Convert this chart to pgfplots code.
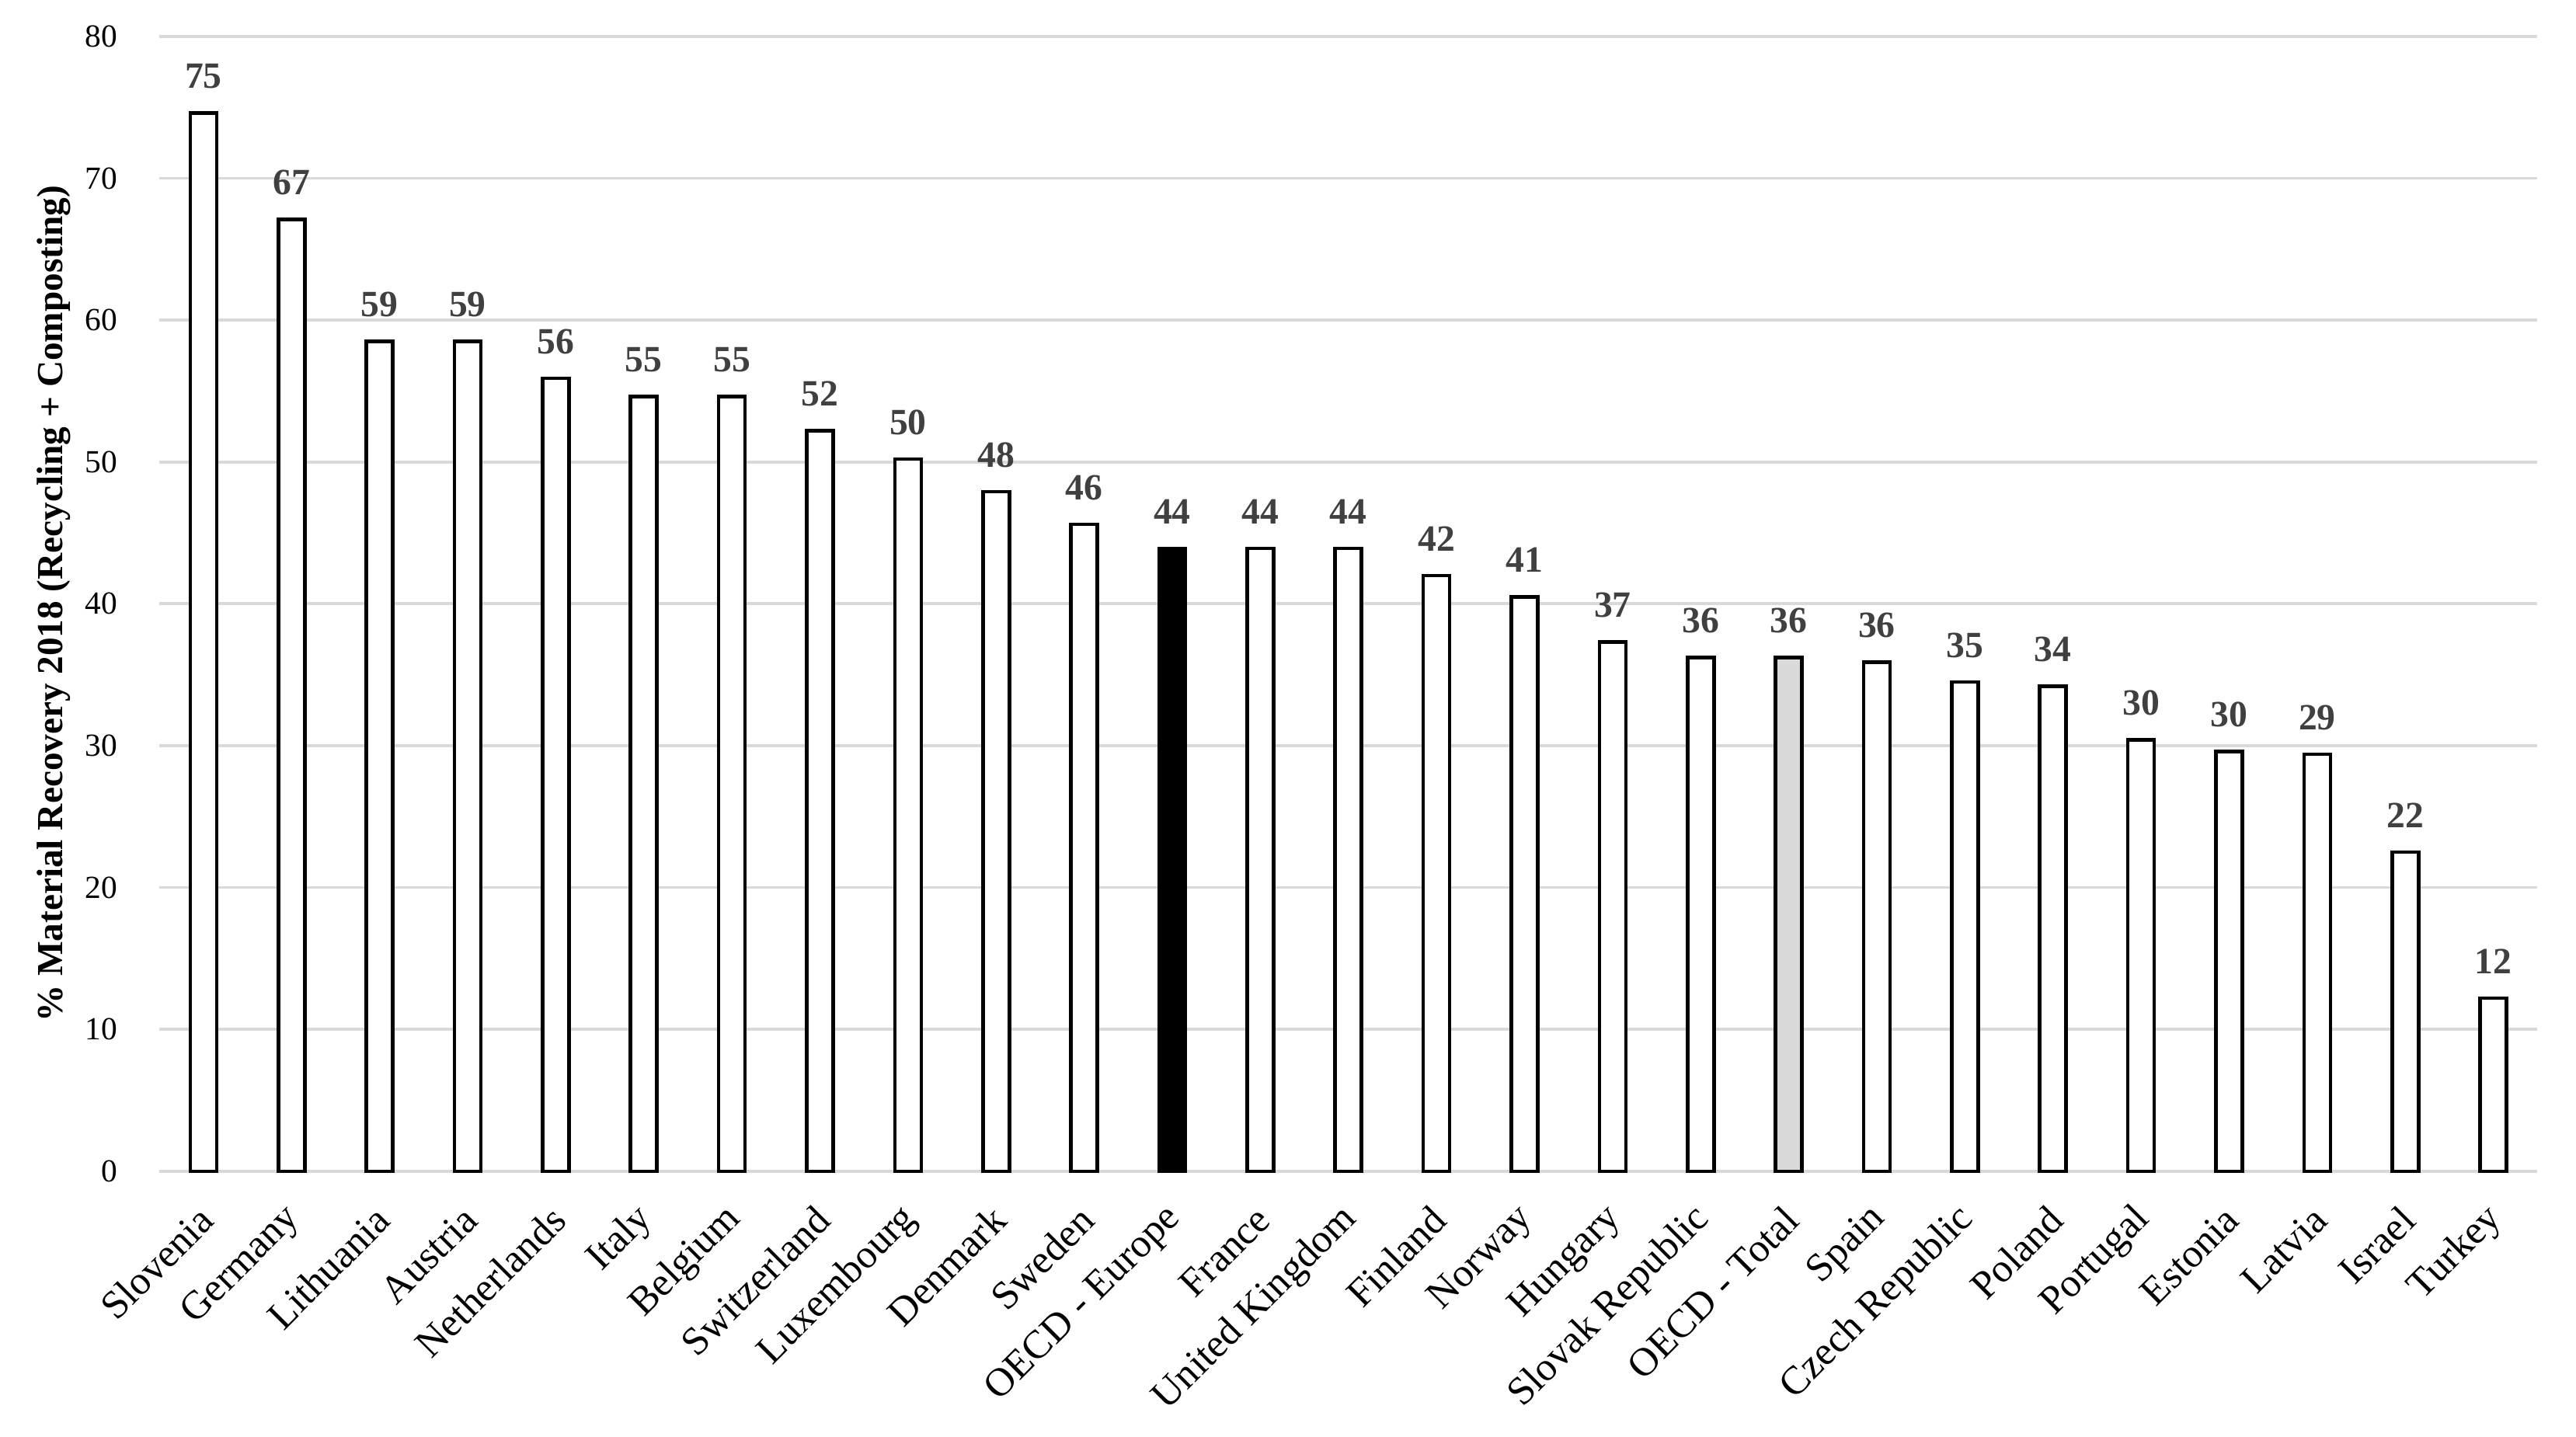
\documentclass[border=0pt]{standalone}
\usepackage{fontspec}
\setmainfont{Liberation Serif}
\usepackage{pgfplots}
\usepackage{pgfplotstable}
\pgfplotsset{compat=1.18}
\definecolor{gridgray}{HTML}{D9D9D9}
\definecolor{lblgray}{HTML}{404040}
\definecolor{totgray}{HTML}{D9D9D9}

\pgfplotstableread{
x y lab
0 74.6 75
1 67.1 67
2 58.5 59
3 58.5 59
4 55.9 56
5 54.6 55
6 54.6 55
7 52.2 52
8 50.2 50
9 47.9 48
10 45.6 46
11 43.9 44
12 43.9 44
13 43.9 44
14 42.0 42
15 40.5 41
16 37.3 37
17 36.2 36
18 36.2 36
19 35.9 36
20 34.5 35
21 34.2 34
22 30.4 30
23 29.6 30
24 29.4 29
25 22.5 22
26 12.2 12
}\datatable

\begin{document}
\begin{tikzpicture}
\begin{axis}[
  scale only axis,
  width=738.5pt, height=352.5pt,
  xmin=-0.5, xmax=26.5,
  ymin=0, ymax=80,
  ytick={0,10,...,80},
  xtick={0,...,26},
  xticklabels={Slovenia, Germany, Lithuania, Austria, Netherlands, Italy, Belgium, Switzerland, Luxembourg, Denmark, Sweden, OECD - Europe, France, United Kingdom, Finland, Norway, Hungary, Slovak Republic, OECD - Total, Spain, Czech Republic, Poland, Portugal, Estonia, Latvia, Israel, Turkey},
  axis line style={draw=none},
  major tick length=0pt,
  ymajorgrids,
  grid style={gridgray, line width=0.9pt},
  /pgf/number format/assume math mode=true,
  yticklabel style={font=\fontsize{10}{12}\selectfont, inner sep=0pt, xshift=-12.8pt},
  xticklabel style={font=\fontsize{12.4}{14}\selectfont, inner sep=0pt, xshift=1pt, yshift=-13pt, rotate=45, anchor=east},
  ylabel={\% Material Recovery 2018 (Recycling + Composting)},
  ylabel style={font=\bfseries\fontsize{11.4}{13}\selectfont, at={(rel axis cs:0,0.5)}, anchor=center, yshift=32.7pt},
  ybar, bar width=0.3, bar shift=0pt,
  clip=false,
]
\addplot[draw=black, fill=white, line width=1.1pt,
  nodes near coords, point meta=explicit symbolic,
  every node near coord/.style={font=\bfseries\fontsize{11.5}{13}\selectfont, text=lblgray, anchor=south, inner sep=0pt, yshift=7pt}]
  table[x=x, y=y, meta=lab] {\datatable};
\addplot[draw=black, fill=black, line width=1.1pt] coordinates {(11,43.9)};
\addplot[draw=black, fill=totgray, line width=1.1pt] coordinates {(18,36.2)};
\coordinate (bl) at (rel axis cs:0,0);
\coordinate (tr) at (rel axis cs:1,1);
\end{axis}
\path ([xshift=-49.5pt, yshift=-82.5pt]bl) ([xshift=12pt, yshift=11.3pt]tr);
\end{tikzpicture}
\end{document}
